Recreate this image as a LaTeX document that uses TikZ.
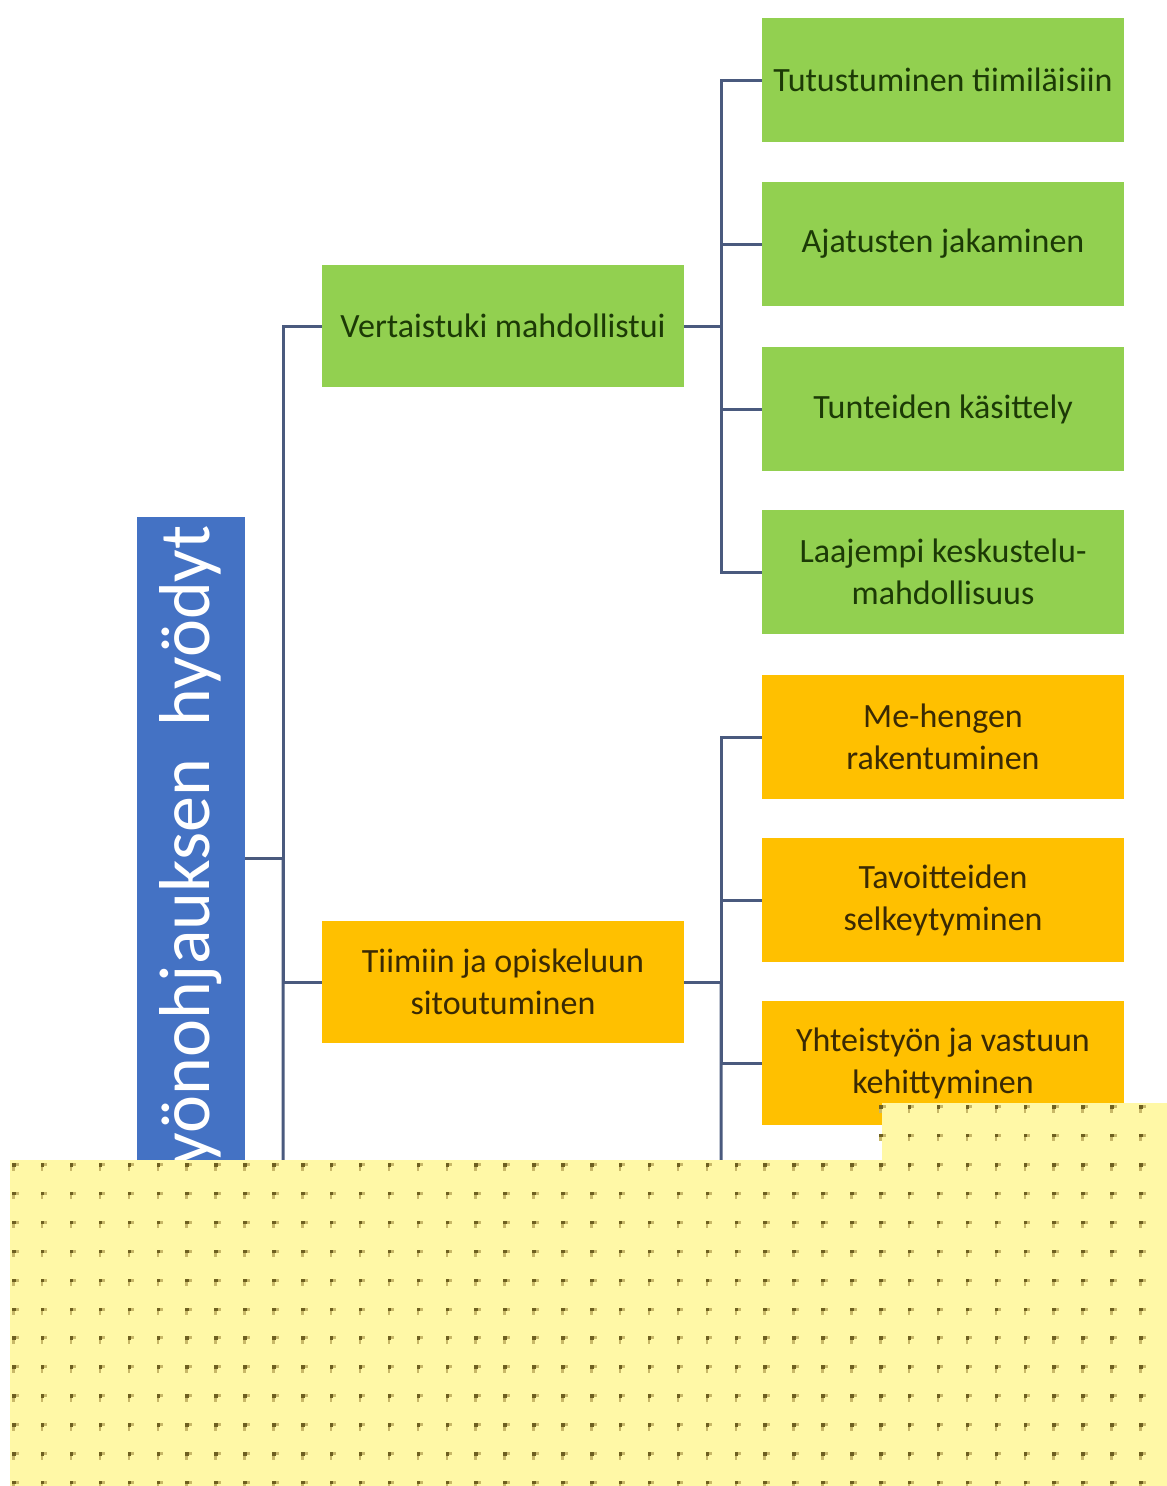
\documentclass[tikz,border=0pt]{standalone}
\usepackage{fontspec}
\setmainfont{Carlito}
\usetikzlibrary{positioning}
\definecolor{rootblue}{HTML}{4472C4}
\definecolor{leafgreen}{HTML}{92D050}
\definecolor{leaforange}{HTML}{FFC000}
\definecolor{greentext}{HTML}{1C3A06}
\definecolor{orangetext}{HTML}{3A2A04}
\definecolor{busline}{HTML}{4A5A7E}
\definecolor{notepaper}{HTML}{FFF8A6}
\definecolor{notedot}{HTML}{6E6020}
\definecolor{notedotlight}{HTML}{C8B868}
\definecolor{notepatch}{HTML}{D6C26E}
\tikzset{
  box/.style={minimum width=362, minimum height=124, align=center,
    inner sep=0, font=\fontsize{34}{42}\selectfont},
  greenbox/.style={box, fill=leafgreen, text=greentext},
  orangebox/.style={box, fill=leaforange, text=orangetext},
  bus/.style={draw=busline, line width=3},
}
\begin{document}
\begin{tikzpicture}[x=1pt, y=-1pt]
\useasboundingbox (0,0) rectangle (1167,1486);
\node[fill=rootblue, text=white, rotate=90, minimum width=682, minimum height=108,
  inner sep=0, font=\fontsize{72}{84}\selectfont] (root) at (191,858) {\hspace*{-6pt}Työnohjauksen\ \ hyödyt};
\node[greenbox, minimum height=122] (vert) at (503,326) {Vertaistuki mahdollistui};
\node[orangebox, minimum height=122] (tiimi) at (503,982) {Tiimiin ja opiskeluun\\sitoutuminen};
\node[greenbox] (g1) at (943,80) {Tutustuminen tiimiläisiin};
\node[greenbox] (g2) at (943,244) {Ajatusten jakaminen};
\node[greenbox] (g3) at (943,409) {Tunteiden käsittely};
\node[greenbox] (g4) at (943,572) {Laajempi keskustelu-\\mahdollisuus};
\node[orangebox] (o1) at (943,737) {Me-hengen\\rakentuminen};
\node[orangebox] (o2) at (943,900) {Tavoitteiden\\selkeytyminen};
\node[orangebox] (o3) at (943,1063) {Yhteistyön ja vastuun\\kehittyminen};
% connectors
\draw[bus] (root.south) -- ++(38,0) coordinate (b0);
\coordinate (b0end) at (283,1200);
\draw[bus] (b0) |- (vert.west);
\draw[bus] (b0) |- (tiimi.west);
\draw[bus] (b0) -- (b0end);
\draw[bus] (vert.east) -- ++(37,0) coordinate (b1);
\foreach \n in {g1,g2,g3,g4}
  \draw[bus] (b1) |- (\n.west);
\draw[bus] (tiimi.east) -- ++(37,0) coordinate (b2);
\coordinate (b2end) at (721,1200);
\foreach \n in {o1,o2,o3}
  \draw[bus] (b2) |- (\n.west);
\draw[bus] (b2) -- (b2end);
% sticky note on top
\fill[notepatch] (882,1103) rectangle (938,1125);
\fill[notepaper] (10,1160) -- (882,1160) -- (882,1103) -- (1167,1103)
  -- (1167,1486) -- (10,1486) -- cycle;
\foreach \i in {0,...,39}
  \foreach \j in {0,...,11}{
    \fill[notedot] (12+28.9*\i,1163+28.9*\j) rectangle ++(3.5,3.5);
    \fill[notedotlight] (15.5+28.9*\i,1163+28.9*\j) rectangle ++(3,3);
    \fill[notedotlight] (12+28.9*\i,1166.5+28.9*\j) rectangle ++(2.5,4);
  }
\foreach \i in {30,...,39}
  \foreach \j in {0,1}{
    \fill[notedot] (12+28.9*\i,1105+28.9*\j) rectangle ++(3.5,3.5);
    \fill[notedotlight] (15.5+28.9*\i,1105+28.9*\j) rectangle ++(3,3);
    \fill[notedotlight] (12+28.9*\i,1108.5+28.9*\j) rectangle ++(2.5,4);
  }
\end{tikzpicture}
\end{document}
